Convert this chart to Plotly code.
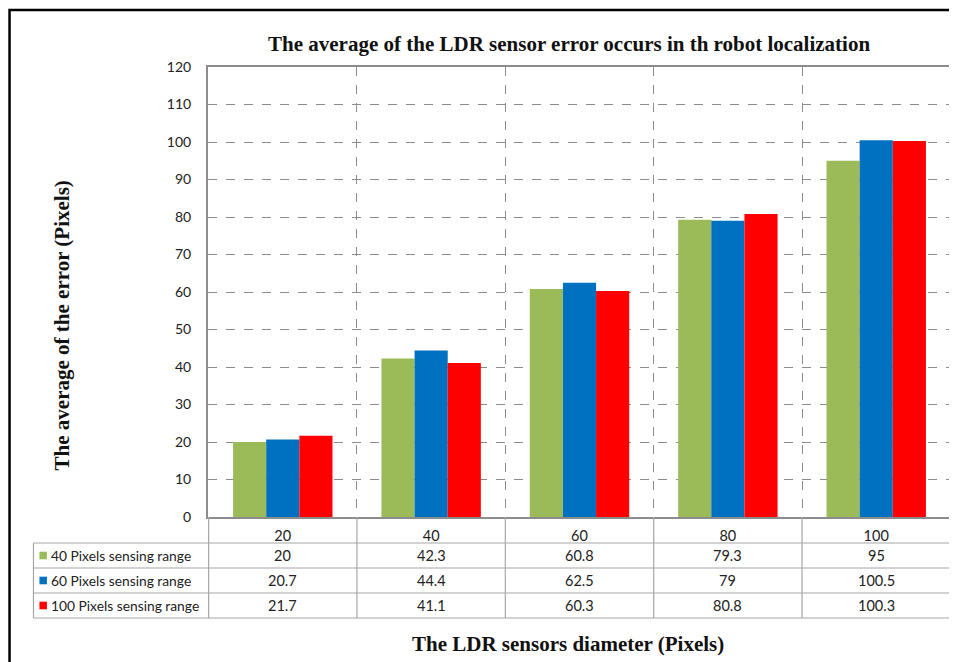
import plotly.graph_objects as go

categories = ["20", "40", "60", "80", "100"]
series_names = ["40 Pixels sensing range", "60 Pixels sensing range", "100 Pixels sensing range"]
values_40 = [20, 42.3, 60.8, 79.3, 95]
values_60 = [20.7, 44.4, 62.5, 79, 100.5]
values_100 = [21.7, 41.1, 60.3, 80.8, 100.3]
series_values = [values_40, values_60, values_100]
colors = ["#9BBB59", "#0070C0", "#FF0000"]

OFF = 8  # page body margin
W, H = 957 - OFF, 662 - OFF
L, R, T, B = 208, 953, 67, 517  # plot area in page pixels


def px(x):
    return (x - L) / (R - L)


def py(y):
    return (B - y) / (B - T)


fig = go.Figure()
for name, vals, col in zip(series_names, series_values, colors):
    fig.add_trace(go.Bar(x=categories, y=vals, name=name, marker=dict(color=col, line=dict(width=0))))

shapes = []
annotations = []
grid = "#8C8C8C"
tbl = "#A6A6A6"
tfont = "Lato, Open Sans, sans-serif"
sfont = "Liberation Serif, Times New Roman, serif"

# table row lines
row_y = [543, 568, 593, 618]
for ry in row_y:
    shapes.append(dict(type="line", xref="paper", yref="paper", x0=px(33), x1=1, y0=py(ry), y1=py(ry),
                       line=dict(color=tbl, width=1.2)))
shapes.append(dict(type="line", xref="paper", yref="paper", x0=px(33), x1=px(33), y0=py(543), y1=py(618),
                   line=dict(color=tbl, width=1.2)))
for i in range(len(categories) + 1):
    shapes.append(dict(type="line", xref="x", yref="paper", x0=i - 0.5, x1=i - 0.5, y0=0, y1=py(618),
                       line=dict(color=tbl, width=1.2)))
# outer chart border
shapes.append(dict(type="rect", xref="paper", yref="paper", x0=px(9), x1=px(990), y0=py(10), y1=py(700),
                   line=dict(color="#000000", width=2.5), fillcolor="rgba(0,0,0,0)"))

for r, vals in enumerate(series_values):
    yc = (row_y[r] + row_y[r + 1]) / 2
    for i, v in enumerate(vals):
        annotations.append(dict(xref="x", yref="paper", x=i, y=py(yc), text=f"{v:g}", showarrow=False,
                                font=dict(family=tfont, size=14.5, color="#222"),
                                xanchor="center", yanchor="middle"))
    shapes.append(dict(type="rect", xref="paper", yref="paper", x0=px(39), x1=px(46.5), y0=py(yc - 3.8), y1=py(yc + 3.8),
                       line=dict(width=0), fillcolor=colors[r]))
    annotations.append(dict(xref="paper", yref="paper", x=px(49), y=py(yc), text=series_names[r], showarrow=False,
                            font=dict(family=tfont, size=13.8, color="#222"),
                            xanchor="left", yanchor="middle"))

annotations.append(dict(xref="paper", yref="paper", x=px(570), y=py(44),
                        text="<b>The average of the LDR sensor error occurs in th robot localization</b>",
                        showarrow=False, xanchor="center", yanchor="middle",
                        font=dict(family=sfont, size=21, color="#111")))
annotations.append(dict(xref="paper", yref="paper", x=px(569), y=py(644),
                        text="<b>The LDR sensors diameter (Pixels)</b>",
                        showarrow=False, xanchor="center", yanchor="middle",
                        font=dict(family=sfont, size=21, color="#111")))
annotations.append(dict(xref="paper", yref="paper", x=px(62), y=py(325),
                        text="<b>The average of the error (Pixels)</b>", textangle=-90,
                        showarrow=False, xanchor="center", yanchor="middle",
                        font=dict(family=sfont, size=21, color="#111")))

fig.update_layout(
    width=W, height=H,
    margin=dict(l=L - OFF, r=W - (R - OFF), t=T - OFF, b=H - (B - OFF)),
    paper_bgcolor="white", plot_bgcolor="white",
    barmode="group", bargap=0.33, bargroupgap=0,
    showlegend=False,
    shapes=shapes, annotations=annotations,
    xaxis=dict(type="category", tickson="boundaries", showgrid=True, gridcolor=grid, griddash="dash", gridwidth=1,
               showline=True, linecolor="#8C8C8C", linewidth=2, mirror=True, ticks="",
               tickfont=dict(family=tfont, size=14.5, color="#222"), ticklabelstandoff=5),
    yaxis=dict(range=[0, 120], dtick=10, showgrid=True, gridcolor=grid, griddash="dash", gridwidth=1,
               showline=True, linecolor="#8C8C8C", linewidth=2, mirror=True, ticks="", zeroline=False,
               tickfont=dict(family=tfont, size=14, color="#222"), ticklabelstandoff=12),
)

fig.write_html("out.html")
